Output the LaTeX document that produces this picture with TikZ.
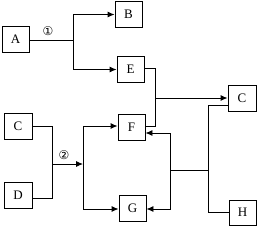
\documentclass[tikz,border=0pt]{standalone}
\usepackage{fontspec}
\setmainfont{Liberation Serif}
\newfontfamily\circfont{DejaVu Sans}
\usetikzlibrary{arrows.meta}
\tikzset{
  box/.style={draw, line width=0.9pt, minimum width=27pt, minimum height=26pt, inner sep=0pt, font=\fontsize{13}{13}\selectfont},
  conn/.style={line width=0.9pt},
  arr/.style={conn, -{Latex[length=7pt,width=6pt]}},
  lbl/.style={font=\circfont\fontsize{12}{12}\selectfont, inner sep=0pt}
}
\begin{document}
\begin{tikzpicture}[x=1pt,y=-1pt]
\useasboundingbox (0,0) rectangle (257,226);
\node[box] (A) at (15.5,39.5) {A};
\node[box] (B) at (128.5,14.5) {B};
\node[box] (E) at (130.5,69.5) {E};
\node[box, minimum width=28pt] (C1) at (242,98) {C};
\node[box] (F) at (131.5,127) {F};
\node[box] (G) at (132.5,208) {G};
\node[box, minimum height=25pt] (H) at (242.5,212.5) {H};
\node[box, minimum width=28pt] (C2) at (18,126.5) {C};
\node[box, minimum width=28pt] (D) at (18,195.5) {D};
% coordinates
\coordinate (j1) at (73,40);
\coordinate (j2) at (155,98);
\coordinate (j3) at (208,170);
\coordinate (j4) at (170,170);
\coordinate (j5) at (52,164);
\coordinate (j6) at (83,164);
% A -> B, E
\draw[conn] (A.east |- j1) -- (j1);
\draw[arr] (j1) |- (B.west);
\draw[arr] (j1) |- (E.west);
\node[lbl] (n1) at (48,31) {①};
% E -> F (line), -> C
\draw[conn] ([yshift=1pt]E.east) -| (155,126) -- (F.east |- 0,126);
\draw[arr] (j2) -- (C1.west);
% C -> H
\draw[conn] ([yshift=-7pt]C1.west) -| (208,212.5) -- (H.west);
\draw[conn] (j3) -- (j4);
\draw[arr] (j4) |- ([yshift=-6pt]F.east);
\draw[arr] (j4) |- ([yshift=-1pt]G.east);
% C, D -> F, G
\draw[conn] (C2.east) -| (52,198) -- (D.east |- 0,198);
\draw[arr] (j5) -- (j6);
\node[lbl] (n2) at (64,155) {②};
\draw[arr] (j6) |- ([yshift=1pt]F.west);
\draw[arr] (j6) |- ([yshift=-1pt]G.west);
\end{tikzpicture}
\end{document}
